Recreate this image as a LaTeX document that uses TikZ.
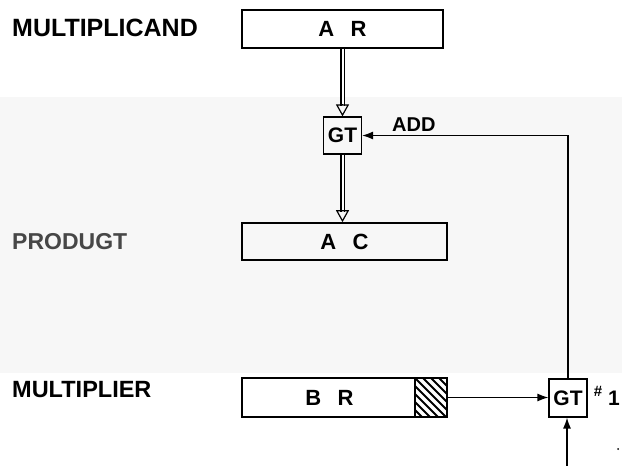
\documentclass[tikz,border=0pt]{standalone}
\usepackage{fontspec}
\setmainfont{Liberation Sans}
\usetikzlibrary{arrows.meta}
\begin{document}
\begin{tikzpicture}[x=1pt,y=-1pt,
  reg/.style={draw, line width=1.6pt, minimum height=38pt, inner sep=0pt, font=\bfseries\fontsize{22}{22}\selectfont},
  gate/.style={draw, line width=1.2pt, minimum width=38pt, minimum height=37pt, inner sep=0pt, font=\bfseries\fontsize{21}{21}\selectfont},
  lbl/.style={anchor=west, inner sep=0pt, font=\bfseries\fontsize{24}{24}\selectfont},
  arr/.style={line width=1.3pt, -{Latex[length=11pt,width=8pt]}},
  dbl/.style={double, double distance=2pt, line width=1.3pt},
  ohead/.style={line width=1.2pt, -{Triangle[open,length=12pt,width=13pt]}}
]
\useasboundingbox (0,0) rectangle (622,466);
\fill[black!3] (0,97) rectangle (622,373);

% labels
\node[lbl, font=\bfseries\fontsize{25}{25}\selectfont] (lmc) at (12,28) {MULTIPLICAND};
\node[lbl, text=black!72, font=\bfseries\fontsize{23}{23}\selectfont] (lpr) at (12,242) {PRODUGT};
\node[lbl, font=\bfseries\fontsize{23.5}{23.5}\selectfont] (lmr) at (12,390) {MULTIPLIER};

% registers
\node[reg, minimum width=201pt] (ar) at (342.5,29) {A\hspace{0.75em}R};
\node[reg, minimum width=205pt, minimum height=37pt] (ac) at (344.5,241.5) {A\hspace{0.75em}C};
\node[reg, minimum width=205pt, minimum height=39pt] (br) at (344.5,397.5) {\hspace{-30pt}B\hspace{0.75em}R};

% hatched cell of multiplier
\begin{scope}
  \clip (415,378) rectangle (447,417);
  \foreach \k in {-40,-32,...,40} {
    \draw[line width=1.8pt] (415+\k,378) -- (415+\k+40,418);
  }
\end{scope}
\draw[line width=1.4pt] (415,378) -- (415,417);
\draw[line width=1.6pt] (415,378) rectangle (447,417);

% gates
\node[gate] (gt1) at (342.5,135.5) {GT};
\node[gate, minimum width=38pt, minimum height=38pt] (gt2) at (568,398) {GT};
\node[inner sep=0pt, font=\bfseries\fontsize{15}{15}\selectfont] (hash) at (598,391) {\#};
\node[inner sep=0pt, anchor=west, font=\bfseries\fontsize{21}{21}\selectfont] (one) at (608,398) {1};
\fill (618,449) circle (1pt);

\node[inner sep=0pt, anchor=west, font=\bfseries\fontsize{20}{20}\selectfont] (add) at (392,125) {ADD};

% double transfer paths
\draw[dbl] (ar.south) -- ([yshift=10pt]gt1.north);
\draw[ohead] ([yshift=12pt]gt1.north) -- (gt1.north);
\draw[dbl] (gt1.south) -- ([yshift=10pt]ac.north -| gt1.south);
\draw[ohead] ([yshift=12pt]ac.north -| gt1.south) -- (ac.north -| gt1.south);

% control lines
\draw[arr] (gt2.north) |- (gt1.east);
\draw[arr] (br.east) -- (br.east -| gt2.west);
\coordinate (cin) at (567,466);
\draw[arr] (cin) -- (cin |- gt2.south);
\end{tikzpicture}
\end{document}
